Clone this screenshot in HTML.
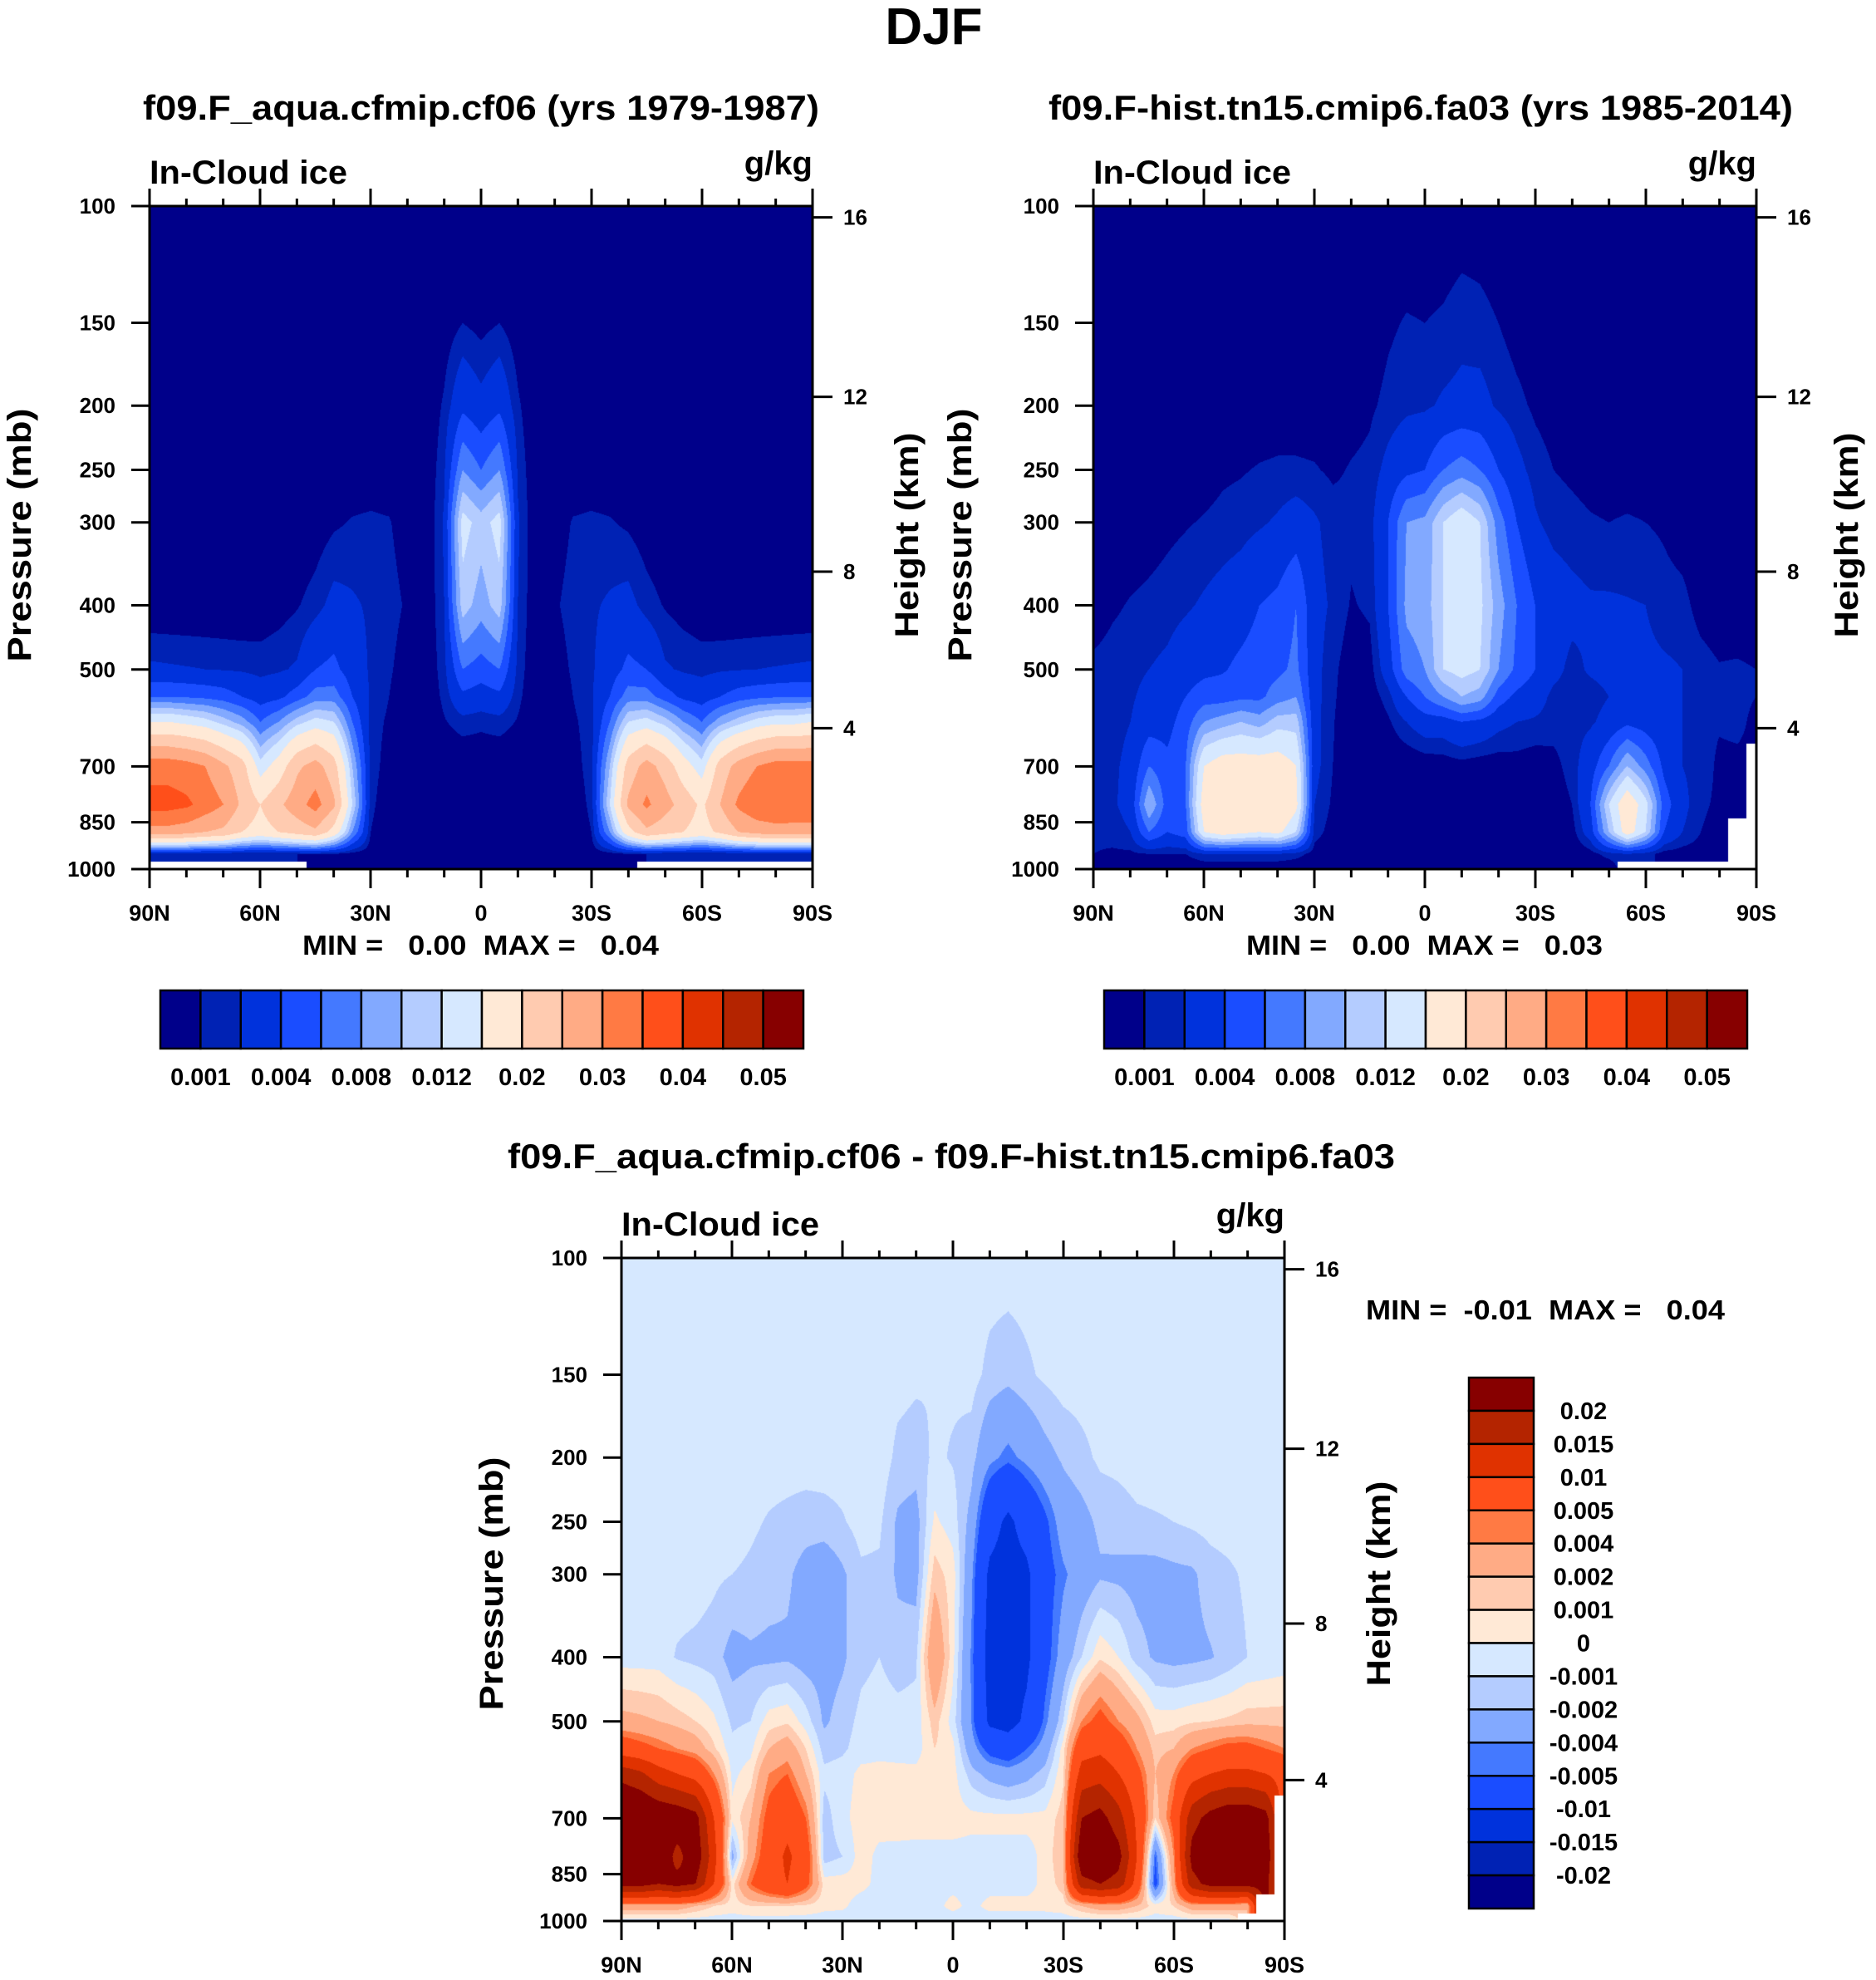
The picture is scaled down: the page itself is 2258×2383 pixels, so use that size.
<!DOCTYPE html>
<html>
<head>
<meta charset="utf-8">
<style>
html,body{margin:0;padding:0;background:#fff;}
#wrap{position:relative;width:2258px;height:2383px;overflow:hidden;background:#fff;font-family:"Liberation Sans",Arial,sans-serif;}
canvas{position:absolute;}
svg{position:absolute;left:0;top:0;}
text{font-family:"Liberation Sans",Arial,sans-serif;font-weight:bold;fill:#000;}
</style>
</head>
<body>
<div id="wrap">
<canvas id="c1" width="798" height="798" style="left:180px;top:248px"></canvas>
<canvas id="c2" width="798" height="798" style="left:1316px;top:248px"></canvas>
<canvas id="c3" width="798" height="798" style="left:748px;top:1514px"></canvas>
<svg id="ov" width="2258" height="2383" viewBox="0 0 2258 2383" xmlns="http://www.w3.org/2000/svg">
  <text x="1124" y="53" font-size="62" text-anchor="middle">DJF</text>
  <text x="579" y="144" font-size="42" text-anchor="middle" textLength="814" lengthAdjust="spacingAndGlyphs">f09.F_aqua.cfmip.cf06 (yrs 1979-1987)</text>
  <text x="1710" y="144" font-size="42" text-anchor="middle" textLength="896" lengthAdjust="spacingAndGlyphs">f09.F-hist.tn15.cmip6.fa03 (yrs 1985-2014)</text>
  <text x="1145" y="1406" font-size="42" text-anchor="middle" textLength="1068" lengthAdjust="spacingAndGlyphs">f09.F_aqua.cfmip.cf06 - f09.F-hist.tn15.cmip6.fa03</text>

  <text x="180" y="221" font-size="40" textLength="238" lengthAdjust="spacingAndGlyphs">In-Cloud ice</text>
  <text x="978" y="210" font-size="40" text-anchor="end">g/kg</text>
  <text x="1316" y="221" font-size="40" textLength="238" lengthAdjust="spacingAndGlyphs">In-Cloud ice</text>
  <text x="2114" y="210" font-size="40" text-anchor="end">g/kg</text>
  <text x="748" y="1487" font-size="40" textLength="238" lengthAdjust="spacingAndGlyphs">In-Cloud ice</text>
  <text x="1546" y="1476" font-size="40" text-anchor="end">g/kg</text>

  <text transform="translate(37,644) rotate(-90)" font-size="40" text-anchor="middle" textLength="305" lengthAdjust="spacingAndGlyphs">Pressure (mb)</text>
  <text transform="translate(1105,644) rotate(-90)" font-size="40" text-anchor="middle" textLength="247" lengthAdjust="spacingAndGlyphs">Height (km)</text>
  <text transform="translate(1169,644) rotate(-90)" font-size="40" text-anchor="middle" textLength="305" lengthAdjust="spacingAndGlyphs">Pressure (mb)</text>
  <text transform="translate(2236,644) rotate(-90)" font-size="40" text-anchor="middle" textLength="247" lengthAdjust="spacingAndGlyphs">Height (km)</text>
  <text transform="translate(605,1906) rotate(-90)" font-size="40" text-anchor="middle" textLength="305" lengthAdjust="spacingAndGlyphs">Pressure (mb)</text>
  <text transform="translate(1673,1906) rotate(-90)" font-size="40" text-anchor="middle" textLength="247" lengthAdjust="spacingAndGlyphs">Height (km)</text>

  <text x="364" y="1149" font-size="33" xml:space="preserve" textLength="429" lengthAdjust="spacingAndGlyphs">MIN =   0.00  MAX =   0.04</text>
  <text x="1500" y="1149" font-size="33" xml:space="preserve" textLength="429" lengthAdjust="spacingAndGlyphs">MIN =   0.00  MAX =   0.03</text>
  <text x="1644" y="1588" font-size="33" xml:space="preserve" textLength="432" lengthAdjust="spacingAndGlyphs">MIN =  -0.01  MAX =   0.04</text>
</svg>
</div>
<script>
// values in units of 0.001 g/kg; columns are latitudes 90N..90S every 5 deg; rows are PLEV
const PLEV=[100,150,200,250,300,400,500,550,600,700,800,880,950,1000];
const B=-0.5;
const ctlCols=[
[0,0,0,0,0,0,2.3,6,15,33,37,28,1,null],
[0,0,0,0,0,0,2.2,6,15,33,37,28,1,null],
[0,0,0,0,0,0,2.1,5.8,14,32,36,27,1,null],
[0,0,0,0,0,0,2,5.5,13,30,33,25,1,null],
[0,0,0,0,0,0,1.9,5,11,26,30,24,1,null],
[0,0,0,0,0,0,1.8,4,9,22,24,20,1,null],
[0,0,0,0,0,0.2,1.6,3,6,13,20,18,1,null],
[0,0,0,0,0,0.5,1.8,3.5,8,17,24,20,1,null],
[0,0,0,0,0,0.9,2.2,5,11,24,28,22,1,null],
[0,0,0,0,0.3,1.5,4,7,13,27,32,24,1,0],
[0,0,0,0,0.8,2.5,4.5,7,12,22,26,18,1,0],
[0,0,0,0.2,1.1,2.2,3,4,6,10,12,8,0.5,0],
[0,0,0,0.3,1.2,1.8,1.8,1.8,1.5,1.5,1.3,1,0.3,0],
[0,0,0,0.2,1.1,1.5,1.2,1,0.8,0.5,0.2,0,0,0],
[0,0,0,0,0.3,0.8,0.3,0,0,0,0,0,0,0],
[0,0,0,0,0,0,0,0,0,0,0,0,0,0],
[0,0.3,1.2,1.8,2.2,2,1.6,1.3,0.9,0,0,0,0,0],
[0,1,3.5,8,13,11,6,3.5,1.5,0,0,0,0,0],
[0,0.6,2.5,6,11,9,5,3,1.3,0,0,0,0,0],
[0,1,3.5,8,13,11,6,3.5,1.5,0,0,0,0,0],
[0,0.3,1.2,1.8,2.2,2,1.6,1.3,0.9,0,0,0,0,0],
[0,0,0,0,0,0,0,0,0,0,0,0,0,0],
[0,0,0,0,0.3,0.8,0.3,0,0,0,0,0,0,0],
[0,0,0,0.2,1.1,1.5,1.2,1,0.8,0.5,0.2,0,0,0],
[0,0,0,0.3,1.2,1.8,1.8,1.8,1.5,1.5,1.3,1,0.3,0],
[0,0,0,0.2,1.1,2.2,3,4,6,10,12,8,0.5,0],
[0,0,0,0,0.8,2.5,4.5,7,12,22,26,18,1,0],
[0,0,0,0,0.3,1.5,4,7,13,27,31,24,1,null],
[0,0,0,0,0,0.9,2.2,5,11,23,27,22,1,null],
[0,0,0,0,0,0.5,1.8,3.5,8,17,23,20,1,null],
[0,0,0,0,0,0.2,1.6,3,6,13,19,18,1,null],
[0,0,0,0,0,0,1.8,4,9,22,25,21,1,null],
[0,0,0,0,0,0,1.9,5,11,27,31,25,1,null],
[0,0,0,0,0,0,2,5.5,13,30,34,27,1,null],
[0,0,0,0,0,0,2.1,5.8,14,32,34.5,28,1,null],
[0,0,0,0,0,0,2.2,6,14,32,34,28,1,null],
[0,0,0,0,0,0,2.3,6,15,32,34,28,1,null]
];
const histCols=[
[0,0,0,0,0,0.3,1.3,1.4,1.4,1.5,1.5,1.3,1,0],
[0,0,0,0,0,0.8,1.5,1.6,1.7,1.8,1.8,1.5,0.8,0],
[0,0,0,0,0.2,1.1,1.6,1.8,2,2.3,2.5,2,0.8,0],
[0,0,0,0,0.4,1.3,2,2.5,3,6,10,6,1,0],
[0,0,0,0,0.7,1.5,2.3,2.8,3.3,4.5,5,4,1,0],
[0,0,0,0.3,0.9,1.8,3,4,5,6,6,5,1,0],
[0,0,0,0.5,1.1,2.2,3.5,5,8,15,17,15,2,0],
[0,0,0,0.8,1.3,2.6,3.8,5,9,17,20,17,2,0],
[0,0,0,0.9,1.5,3,4.5,5.5,10,17,19,16,2,0],
[0,0,0.2,1.1,1.8,4,5,5.5,9,17,18,15,2,0],
[0,0,0.3,1.2,2.2,4.5,5.5,7,11,17,20,16,2,0],
[0,0,0.3,1.2,2.8,6,6.5,8,11,15,16,12,1.5,0],
[0,0,0.3,1.1,2.2,2.5,2.5,2.5,2.5,2.5,2,1.5,0.5,0],
[0,0,0.2,0.8,1.5,1.8,1.3,1.2,1.1,1,0.8,0.5,0,0],
[0,0,0.5,1.1,1.3,0.9,0.3,0.2,0,0,0,0,0,0],
[0,0.3,0.8,1.3,1.5,1.2,0.5,0.3,0,0,0,0,0,0],
[0,0.8,1.3,2.5,4,4,3,1.5,0.8,0,0,0,0,0],
[0,1.1,1.7,3.5,8,8.5,7,4,2,0,0,0,0,0],
[0,1,1.8,4,8.5,9,8,6,3,0.2,0,0,0,0],
[0,1.2,2.2,6,12,12,12,8,3,0.3,0,0,0,0],
[0.2,1.6,2.4,7,14,13.5,13,10,4,0.5,0,0,0,0],
[0.2,1.4,2.5,6,12,12.5,12,9,3.5,0.3,0,0,0,0],
[0,1,1.8,4,7,9,8,5,2.5,0.3,0,0,0,0],
[0,0.5,1.3,2.5,4,6,5.5,3.5,2,0.5,0,0,0,0],
[0,0.3,0.8,1.5,2.2,4,4,2.8,1.8,0.3,0,0,0,0],
[0,0,0.5,1,1.5,3,2.5,1.6,1.5,0.6,0.2,0,0,0],
[0,0,0.3,0.8,1.3,2.5,1.6,1.5,1.6,1.5,1,0.5,0,0],
[0,0,0.2,0.6,1.1,2.2,2.2,1.5,1.8,3,4,3,0.5,0],
[0,0,0,0.5,1,2.2,2.4,2,2.5,6,12,10,1.5,0],
[0,0,0,0.5,1.1,2.1,2.4,2.5,3.5,10,18,17,2,null],
[0,0,0,0.5,1,2,2.3,2.3,3,7,13,12,1.5,null],
[0,0,0,0.3,0.8,1.5,2.2,2.2,2.4,3.5,5,4,0.5,null],
[0,0,0,0,0.3,1.4,2,2,2,2,2.5,2,0.5,null],
[0,0,0,0,0,0.5,1.5,1.3,1.3,1.5,1.2,1,0.5,null],
[0,0,0,0,0,0.2,1.1,1.2,1.1,0.8,0.8,0.6,0.3,null],
[0,0,0,0,0,0,1.2,1.2,1.2,0.8,0.5,null,null,null],
[0,0,0,0,0,0,1,1,0.8,null,null,null,null,null]
];
const diffCols=[
[B,B,B,B,B,B,2.5,7,18,28,28,22,3,B],
[B,B,B,B,B,B,2.3,6,16,27,27,22,3,B],
[B,B,B,B,B,B,2,5,12,25,26,20,3,B],
[B,B,B,B,B,-1.1,1.5,4,10,24,18,22,3,B],
[B,B,B,B,B,-1.3,1,3,8,22,24,20,2,B],
[B,B,B,B,-0.8,-1.5,0.2,1.2,4,10,12,10,1,B],
[B,B,B,B,-1,-2.5,-1.2,-0.7,-0.3,0.3,-2.5,0.5,0.5,B],
[B,B,B,-0.8,-1.2,-2.2,-1,-0.3,0.5,2,3,5,1,B],
[B,B,B,-1.1,-1.5,-2.3,0.5,2,4,6,7,8,1,B],
[B,B,B,-1.3,-1.8,-2.2,0.8,3,5,8,11,10,1,B],
[B,B,B,-1.5,-2.5,-2.6,-0.5,1,2,5,7,6,0.8,B],
[B,B,B,-1.4,-3,-2.6,-2.2,-1.5,-0.7,-1.5,-1.5,0.5,0.3,B],
[B,B,B,-1.1,-2.2,-2.2,-1.5,-1.2,-0.5,-0.3,-1,0.5,0.2,B],
[B,B,B,-0.6,-1.2,-1.3,-0.7,-0.5,0.3,0.5,0.5,0.3,B,B],
[B,B,-0.3,-0.8,-1.2,-1,-0.5,-0.3,0.3,0.5,-0.3,-0.3,-0.3,B],
[B,-0.6,-1.3,-2.2,-2.2,-1.5,-0.6,-0.4,0.3,0.6,-0.4,-0.4,-0.3,B],
[B,-0.8,-1.5,-2.5,-2.5,-1.2,-0.6,-0.5,0.3,0.5,-0.4,-0.4,-0.4,B],
[B,-1,-0.8,0.2,1.5,4,1.5,1,0.8,0.5,-0.4,-0.4,-0.3,B],
[B,-0.8,-1.1,-0.5,0.5,0.3,-0.5,0.3,0.4,0.5,-0.4,-0.3,0.3,B],
[B,-0.6,-1.5,-2.5,-3.5,-4.2,-4,-3,-1.5,0.3,-0.4,-0.4,-0.3,B],
[B,-1.3,-3.5,-8,-11,-12,-11,-6,-2.5,0.3,-0.4,-0.4,0.3,B],
[B,-1.6,-4.5,-11,-12,-12,-12,-7,-3,0.3,-0.4,-0.4,0.3,B],
[B,-1.2,-3.5,-8,-11,-11,-9,-5,-2.5,0.3,-0.4,-0.4,0.3,B],
[B,-0.8,-2.5,-5.5,-6,-6,-4.5,-3,-1.5,0.3,0.3,0.3,0.3,B],
[B,-0.5,-1.8,-3,-4.3,-3,-1,0.5,0.8,1.5,2,1.5,0.5,B],
[B,B,-1.3,-2.5,-3,-1,4,8,12,20,25,18,2,B],
[B,B,-0.8,-1.7,-2.2,0.8,6,9,13,22,26,20,3,B],
[B,B,-0.7,-1.5,-2.3,0,4,7,10,17,22,18,3,B],
[B,B,B,-1.2,-2.5,-1.5,2.5,4,6,9,10,8,2,B],
[B,B,B,-1.1,-2.5,-2.2,0.5,1.5,2,1,-5,-6,0.5,B],
[B,B,B,-1,-2.3,-2.4,0.5,2,4,6,4,3,1,B],
[B,B,B,-0.8,-2.2,-2.3,0.8,4,8,18,22,18,3,B],
[B,B,B,-0.6,-1.5,-2.1,1,5,10,22,25,22,3,B],
[B,B,B,B,-1.2,-1.6,1.2,6,11,24,26,22,3,B],
[B,B,B,B,-0.8,-1,1.5,6,11,24,26,22,2,null],
[B,B,B,B,B,-0.8,1.5,5,10,22,24,22,null,null],
[B,B,B,B,B,-0.6,1.5,4,8,null,null,null,null,null]
];
const absLevels=[1,2,4,6,8,10,12,15,20,25,30,35,40,45,50];
const diffLevels=[-20,-15,-10,-5,-4,-2,-1,0,1,2,4,5,10,15,20];
const absLabels=['0.001','0.004','0.008','0.012','0.02','0.03','0.04','0.05'];
const diffLabels=['0.02','0.015','0.01','0.005','0.004','0.002','0.001','0','-0.001','-0.002','-0.004','-0.005','-0.01','-0.015','-0.02'];
const colors=['#00008a','#0022b4','#0032dc','#1a4dff','#4479ff','#82a9ff','#b4ccff','#d6e8ff','#ffe9d6','#ffcbb0','#ffab85','#ff7a44','#ff4f1a','#e03200','#b42400','#870000'];
const pTicks=[100,150,200,250,300,400,500,700,850,1000];
const latTicks=[90,60,30,0,-30,-60,-90];
const latLabels=['90N','60N','30N','0','30S','60S','90S'];
const hKm=[4,8,12,16];
const hP=[613,356,194,104];

function hexRgb(h){return [parseInt(h.substr(1,2),16),parseInt(h.substr(3,2),16),parseInt(h.substr(5,2),16)];}
const RGB=colors.map(hexRgb);

function drawField(id,cols,levels){
  const cv=document.getElementById(id),ctx=cv.getContext('2d');
  const W=cv.width,H=cv.height,img=ctx.createImageData(W,H),d=img.data;
  const lp=PLEV.map(Math.log10),nc=cols.length;
  // fill nulls with value above for interpolation
  const filled=cols.map(c=>{const o=c.slice();for(let r=0;r<o.length;r++){if(o[r]===null)o[r]=r>0?o[r-1]:0;}return o;});
  for(let y=0;y<H;y++){
    const L=2+y/(H-1);
    let r=0;while(r<lp.length-2&&L>lp[r+1])r++;
    const fr=Math.min(1,Math.max(0,(L-lp[r])/(lp[r+1]-lp[r])));
    const rn=fr<0.5?r:r+1;
    for(let x=0;x<W;x++){
      const c=x/(W-1)*(nc-1);
      let c0=Math.min(Math.floor(c),nc-2);const fc=c-c0;const cn=fc<0.5?c0:c0+1;
      const k=(y*W+x)*4;
      if(cols[cn][rn]===null){d[k]=255;d[k+1]=255;d[k+2]=255;d[k+3]=255;continue;}
      const v=(1-fc)*((1-fr)*filled[c0][r]+fr*filled[c0][r+1])+fc*((1-fr)*filled[c0+1][r]+fr*filled[c0+1][r+1]);
      let idx=0;for(let i=0;i<levels.length;i++){if(v>=levels[i])idx=i+1;}
      const col=RGB[idx];d[k]=col[0];d[k+1]=col[1];d[k+2]=col[2];d[k+3]=255;
    }
  }
  ctx.putImageData(img,0,0);
}

const NS='http://www.w3.org/2000/svg';
const ov=document.getElementById('ov');
function mk(tag,attrs,parent){const e=document.createElementNS(NS,tag);for(const k in attrs)e.setAttribute(k,attrs[k]);(parent||ov).appendChild(e);return e;}

function drawAxes(X,Y,S,prefix){
  const g=mk('g',{});
  
  
  const yOf=p=>Y+Math.log10(p/100)*S;
  const xOf=lat=>X+(90-lat)/180*S;
  const frame=mk('rect',{x:X,y:Y,width:S,height:S,fill:'none',stroke:'#000','stroke-width':3},g);
  
  
  pTicks.forEach(p=>{
    const yy=yOf(p);
    const t=mk('line',{x1:X-22,x2:X,y1:yy,y2:yy,stroke:'#000','stroke-width':3},g);
    
    
    const l=mk('text',{x:X-41,y:yy+9,'font-size':26,'text-anchor':'end'},g);
    
    
    l.textContent=String(p);
  });
  hKm.forEach((h,i)=>{
    const yy=yOf(hP[i]);
    const t=mk('line',{x1:X+S,x2:X+S+24,y1:yy,y2:yy,stroke:'#000','stroke-width':3},g);
    
    
    const l=mk('text',{x:X+S+37,y:yy+9,'font-size':26},g);
    
    
    l.textContent=String(h);
  });
  for(let lat=90;lat>=-90;lat-=10){
    const xx=xOf(lat),major=(lat%30===0);
    const tt=mk('line',{x1:xx,x2:xx,y1:Y,y2:Y-(major?21:9),stroke:'#000','stroke-width':3},g);
    
    
    const tb=mk('line',{x1:xx,x2:xx,y1:Y+S,y2:Y+S+(major?23:10),stroke:'#000','stroke-width':3},g);
    
    
  }
  latTicks.forEach((lat,i)=>{
    const l=mk('text',{x:xOf(lat),y:Y+S+62,'font-size':27,'text-anchor':'middle'},g);
    
    
    l.textContent=latLabels[i];
  });
}

function hColorbar(X,Y,W,H,prefix){
  const g=mk('g',{});
  
  
  const bw=W/colors.length;
  colors.forEach((c,i)=>{
    const r=mk('rect',{x:X+i*bw,y:Y,width:bw,height:H,fill:c,stroke:'#000','stroke-width':2.5},g);
    
    
  });
  absLabels.forEach((t,j)=>{
    const i=2*j+1;
    const l=mk('text',{x:X+i*bw,y:Y+H+44,'font-size':29,'text-anchor':'middle'},g);
    
    
    l.textContent=t;
  });
}

function vColorbar(X,Y,W,H,prefix){
  const g=mk('g',{});
  
  
  const bh=H/colors.length;
  colors.slice().reverse().forEach((c,i)=>{
    const r=mk('rect',{x:X,y:Y+i*bh,width:W,height:bh,fill:c,stroke:'#000','stroke-width':2.5},g);
    
    
  });
  diffLabels.forEach((t,i)=>{
    const l=mk('text',{x:X+W+60,y:Y+(i+1)*bh+10,'font-size':29,'text-anchor':'middle'},g);
    
    
    l.textContent=t;
  });
}

drawField('c1',ctlCols,absLevels);
drawField('c2',histCols,absLevels);
drawField('c3',diffCols,diffLevels);
drawAxes(180,248,798,'panel1');
drawAxes(1316,248,798,'panel2');
drawAxes(748,1514,798,'panel3');
hColorbar(193,1192,774,70,'panel1');
hColorbar(1329,1192,774,70,'panel2');
vColorbar(1768,1658,78,639,'panel3');
</script>
</body>
</html>
